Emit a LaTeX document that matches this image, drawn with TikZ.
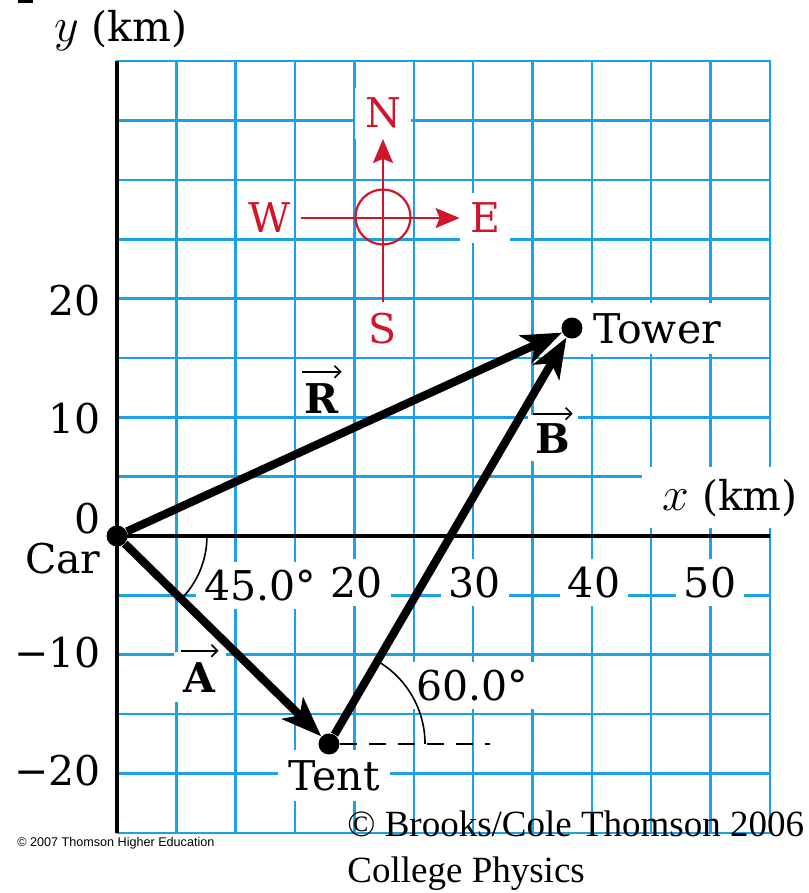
\RequirePackage{fix-cm}
\documentclass[tikz,border=0pt]{standalone}
\usepackage{fontspec}
\setmainfont{DejaVu Serif}
\newfontfamily\cpserif{Liberation Serif}
\newfontfamily\cpsans{Liberation Sans}
\usetikzlibrary{arrows.meta}
\definecolor{gridblue}{RGB}{30,160,228}
\definecolor{compassred}{RGB}{208,22,45}
\newcommand{\axvar}[1]{{\fontsize{24}{28}\selectfont$#1$}}
\begin{document}
\begin{tikzpicture}[x=0.5pt,y=-0.5pt,
  lbl/.style={font=\fontsize{20.5}{25}\selectfont, inner sep=0pt},
  wbox/.style={lbl, fill=white, inner sep=4pt},
  gridln/.style={draw=gridblue, line width=1.25pt, line cap=rect},
  axisln/.style={draw=black, line width=2pt},
  vecln/.style={draw=black, line width=4.1pt, -{Stealth[length=20pt,width=15pt,inset=5pt]}},
  vecmark/.style={draw=black, line width=0.8pt, -{Straight Barb[length=3pt,width=6pt]}},
  dotnode/.style={circle, fill=black, inner sep=0pt, minimum size=10.5pt},
  anglearc/.style={draw=black, line width=0.8pt},
  dashln/.style={draw=black, line width=1pt, dash pattern=on 8.5pt off 6pt},
  cmplbl/.style={lbl, text=compassred, inner sep=5pt},
  cmpln/.style={draw=compassred, line width=0.9pt},
  cmparrow/.style={cmpln, -{Stealth[length=12pt,width=10pt,inset=2pt]}}
]
\useasboundingbox (0,0) rectangle (808,893);
\fill (18,0) rectangle (33,3);
% grid
\begin{scope}[shift={(117,536)}, x=5.935pt, y=5.935pt]
  \foreach \i in {0,5,...,55} \draw[gridln] (\i,-25) -- (\i,40);
  \foreach \j in {-25,-20,...,40} \draw[gridln] (0,\j) -- (55,\j);
\end{scope}
% labels
\node[lbl, anchor=base] (ylab) at (121,42) {\axvar{y} (km)};
\node[wbox, anchor=base, inner xsep=10pt, inner ysep=6pt] (xlab) at (730,510) {\axvar{x} (km)};
\node[lbl, anchor=base east] (t20) at (101,315) {20};
\node[lbl, anchor=base east] (t10) at (101,433) {10};
\node[lbl, anchor=base east] (t0) at (101,533) {0};
\node[lbl, anchor=base east] (carlab) at (101,573) {Car};
\node[lbl, anchor=base east] (tm10) at (101,667) {−10};
\node[lbl, anchor=base east] (tm20) at (101,785) {−20};
\node[wbox, anchor=base] (x20) at (357,597) {20};
\node[wbox, anchor=base] (x30) at (475,597) {30};
\node[wbox, anchor=base] (x40) at (594,597) {40};
\node[wbox, anchor=base] (x50) at (710,597) {50};
\node[wbox, anchor=base] (a45) at (260,600) {45.0°};
\node[wbox, anchor=base] (a60) at (472,700) {60.0°};
\node[wbox, anchor=base, inner sep=5pt] (towerlab) at (657,343) {Tower};
\node[wbox, anchor=base, inner sep=5pt] (tentlab) at (334,790) {Tent};
\node[lbl, anchor=base] (Rlab) at (322,413) {\textbf{R}};
\node[wbox, anchor=base, inner sep=4pt] (Blab) at (553,453) {\textbf{B}};
\node[wbox, anchor=base, inner sep=5pt] (Alab) at (200,692) {\textbf{A}};
\draw[vecmark] ([xshift=-1pt,yshift=5.5pt]Rlab.north west) -- ([xshift=1pt,yshift=5.5pt]Rlab.north east);
\draw[vecmark] ([xshift=3pt,yshift=0.5pt]Blab.north west) -- ([xshift=-3pt,yshift=0.5pt]Blab.north east);
\draw[vecmark] ([xshift=4pt,yshift=0.5pt]Alab.north west) -- ([xshift=-4pt,yshift=0.5pt]Alab.north east);
% compass
\node[cmplbl, fill=white, anchor=base] (N) at (383,128) {N};
\node[cmplbl, anchor=base] (S) at (383,343) {S};
\node[cmplbl, anchor=base] (W) at (270,233) {W};
\node[cmplbl, fill=white, anchor=base] (E) at (485,233) {E};
\coordinate (cc) at (383,217);
\draw[cmpln, line width=1.1pt] (cc) circle[radius=27.5];
\draw[cmparrow] (S) -- (N);
\draw[cmparrow] (W) -- (E);
% axes and vectors
\begin{scope}[shift={(117,536)}, x=5.935pt, y=5.935pt]
  \draw[axisln] (0,-25) -- (0,40);
  \draw[axisln, line width=1.8pt] (0,0) -- (55,0);
  \node[dotnode] (car) at (0,0) {};
  \node[dotnode] (tent) at (17.86,-17.52) {};
  \node[dotnode] (tower) at (38.33,17.52) {};
  \coordinate (dashend) at (31.42,-17.52);
  \draw[dashln] (tent) -- (dashend);
  \draw[anglearc] (7.58,0) arc[start angle=0, end angle=-45, radius=7.58];
  \draw[anglearc] (25.95,-17.52) arc[start angle=0, end angle=60, radius=8.09];
  \draw[vecln] (car) -- (tent);
  \draw[vecln] (tent) -- (tower);
  \draw[vecln] (car) -- (tower);
\end{scope}
% credits
\node[font=\cpserif\fontsize{18.5}{22}\selectfont, anchor=base west, inner sep=0pt] (cp1) at (347,836) {© Brooks/Cole Thomson 2006};
\node[font=\cpserif\fontsize{18.5}{22}\selectfont, anchor=base west, inner sep=0pt] (cp2) at (347,882) {College Physics};
\node[font=\cpsans\fontsize{6.3}{7.5}\selectfont, anchor=base west, inner sep=0pt] (cp3) at (17,846) {© 2007 Thomson Higher Education};
\end{tikzpicture}
\end{document}
